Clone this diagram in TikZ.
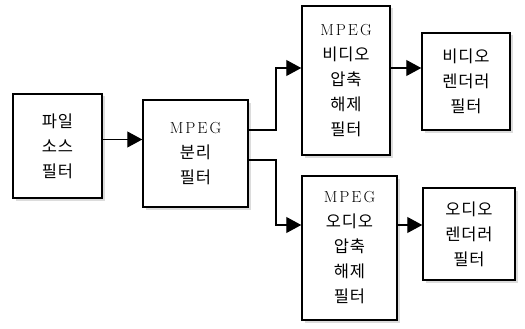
\documentclass[tikz,border=0pt]{standalone}
\usepackage{fontspec}
\newfontfamily\kr[LetterSpace=5]{Noto Sans CJK KR}
\usetikzlibrary{arrows.meta,shadows}
\newcommand{\mpeg}{{\rmfamily\fontsize{16}{25}\selectfont M\kern2pt P\kern2pt E\kern2pt G}}

\begin{document}
\begin{tikzpicture}[x=1pt,y=-1pt,>={Triangle[length=15pt,width=16pt]}]
  \tikzset{
    filt/.style={draw, line width=1.5pt, fill=white, align=center, inner sep=0pt,
      font=\fontsize{16.5}{25}\selectfont\kr,
      drop shadow={shadow xshift=2.5pt, shadow yshift=-2.5pt, fill=gray!55}},
    conn/.style={line width=1.1pt}
  }
  \useasboundingbox (0,0) rectangle (525,329);
  % source and splitter
  \node[filt, minimum width=89pt, minimum height=104pt] (src) at (57.5,146) {파일\\소스\\필터};
  \node[filt, minimum width=105pt, minimum height=107pt] (split) at (195.5,153.5) {\mpeg\\분리\\필터};
  % video branch
  \node[filt, minimum width=88pt, minimum height=149pt] (vdec) at (346,80.5) {\mpeg\\비디오\\압축\\해제\\필터};
  \node[filt, minimum width=88pt, minimum height=97pt] (vren) at (466,81.5) {비디오\\렌더러\\필터};
  % audio branch
  \node[filt, minimum width=95pt, minimum height=144pt] (adec) at (349.5,248) {\mpeg\\오디오\\압축\\해제\\필터};
  \node[filt, minimum width=92pt, minimum height=92pt] (aren) at (469,234) {오디오\\렌더러\\필터};
  % ports
  \coordinate (fork) at (276,0);
  \coordinate (srcport) at ([yshift=6.5pt]src.east);
  \coordinate (vport) at ([yshift=23.5pt]split.east);
  \coordinate (aport) at ([yshift=-6.5pt]split.east);
  \coordinate (vin) at ([yshift=12.5pt]vdec.west);
  \coordinate (ain) at ([yshift=23pt]adec.west);
  % connectors
  \draw[conn,->] (srcport) -- (srcport -| split.west);
  \draw[conn,->] (vport) -| (fork |- vin) -- (vin);
  \draw[conn,->] (aport) -| (fork |- ain) -- (ain);
  \draw[conn,->] (vin -| vdec.east) -- (vin -| vren.west);
  \draw[conn,->] (ain -| adec.east) -- (ain -| aren.west);
\end{tikzpicture}
\end{document}
